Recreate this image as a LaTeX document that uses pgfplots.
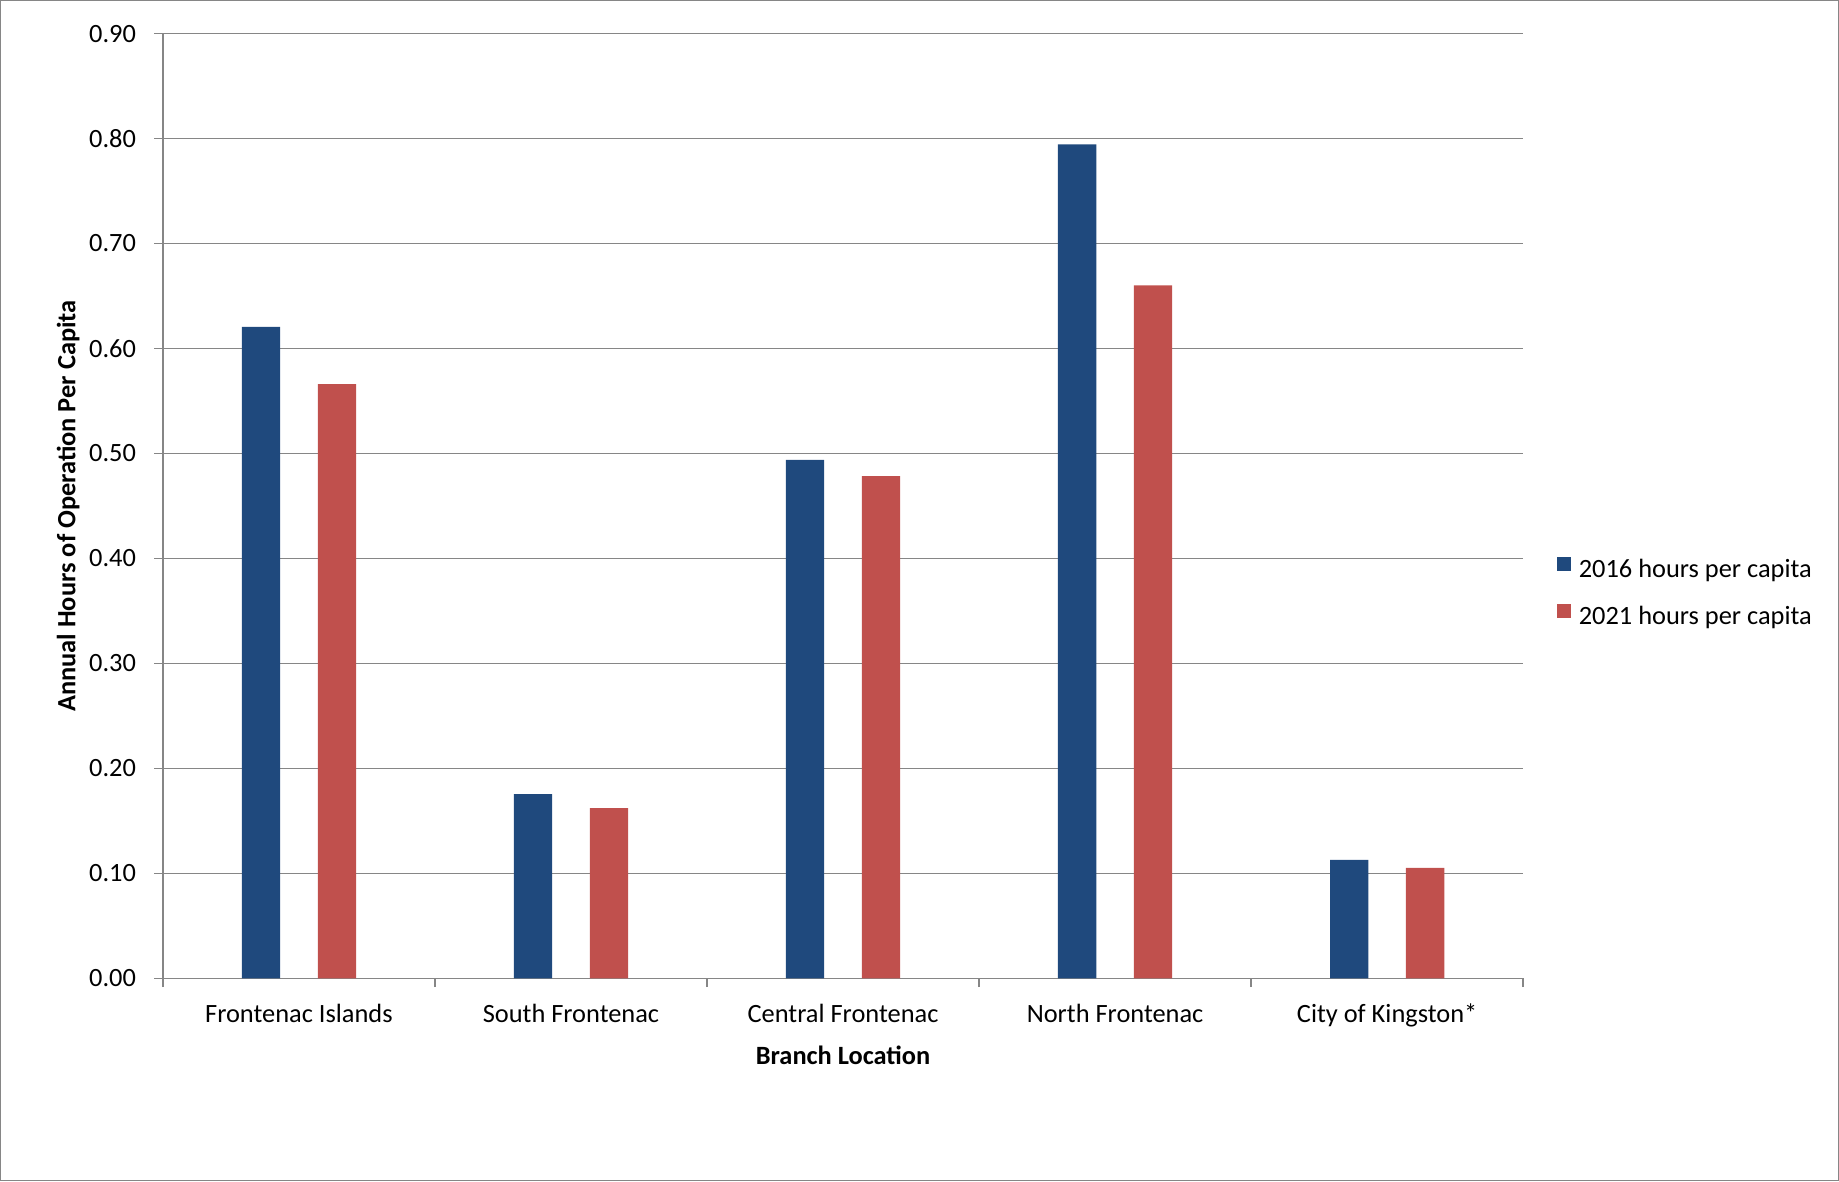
\documentclass[border=0pt]{standalone}
\usepackage{pgfplots}
\pgfplotsset{compat=1.18}
\usepackage{fontspec}
\setmainfont{Carlito}
\definecolor{blueC}{RGB}{31,73,125}
\definecolor{redC}{RGB}{192,80,77}
\definecolor{gridC}{RGB}{134,134,134}
\newcommand{\lblfont}{\fontsize{13.2}{15.8}\selectfont}
\begin{document}
\begin{tikzpicture}
\begin{axis}[
  scale only axis,
  width=680.4pt, height=472.6pt,
  at={(0pt,0pt)}, anchor=south west,
  xmin=-0.5, xmax=4.5, ymin=0, ymax=0.9,
  ybar=18.85pt, bar width=19.15pt,
  axis x line*=bottom, axis y line*=left,
  axis line style={gridC, line width=0.75pt, -},
  ymajorgrids, grid style={gridC, line width=0.75pt},
  ytick={0,0.1,0.2,0.3,0.4,0.5,0.6,0.7,0.8,0.9},
  tick align=outside,
  major tick length=4.35pt,
  tick style={gridC, line width=0.75pt},
  /pgf/number format/assume math mode=true,
  tick label style={font=\lblfont, text=black},
  yticklabel style={anchor=east, inner sep=0pt, xshift=-8.9pt,
    /pgf/number format/.cd, fixed, fixed zerofill, precision=2, /tikz/.cd},
  xtick={-0.5,0.5,1.5,2.5,3.5,4.5},
  xticklabels={\empty,\empty,\empty,\empty,\empty,\empty},
  extra x ticks={0,1,2,3,4},
  extra x tick labels={Frontenac Islands,South Frontenac,Central Frontenac,North Frontenac,City of Kingston*},
  extra x tick style={major tick length=0pt, grid=none,
    xticklabel style={anchor=base, yshift=-22.2pt}},
  xlabel={Branch Location},
  ylabel={Annual Hours of Operation Per Capita},
  every axis x label/.style={at={(axis description cs:0.5,0)}, anchor=center, yshift=-38.25pt, font=\lblfont\bfseries},
  every axis y label/.style={at={(axis description cs:0,0.5)}, anchor=center, rotate=90, yshift=47.35pt, font=\lblfont\bfseries},
  legend style={draw=none, fill=none, inner sep=0pt, outer sep=0pt,
    at={(1.0247,0.4073)}, anchor=west,
    row sep=10pt,
    font=\lblfont,
    nodes={inner sep=0pt, text height=9pt, text depth=3pt}},
  legend cell align=left,
]
\addplot[fill=blueC, draw=none, legend image code/.code={\fill[blueC] (0pt,0.3pt) rectangle (7.2pt,7.5pt); \path (11pt,0pt);}]
  coordinates {(0,0.6205) (1,0.1754) (2,0.4938) (3,0.7945) (4,0.1129)};
\addlegendentry{2016 hours per capita}
\addplot[fill=redC, draw=none, legend image code/.code={\fill[redC] (0pt,0.3pt) rectangle (7.2pt,7.5pt); \path (11pt,0pt);}]
  coordinates {(0,0.566) (1,0.1621) (2,0.4783) (3,0.660) (4,0.1052)};
\addlegendentry{2021 hours per capita}
\end{axis}
\draw[gridC, line width=0.75pt] (-81.1pt,-101pt) rectangle (838pt,489pt);
\end{tikzpicture}
\end{document}
